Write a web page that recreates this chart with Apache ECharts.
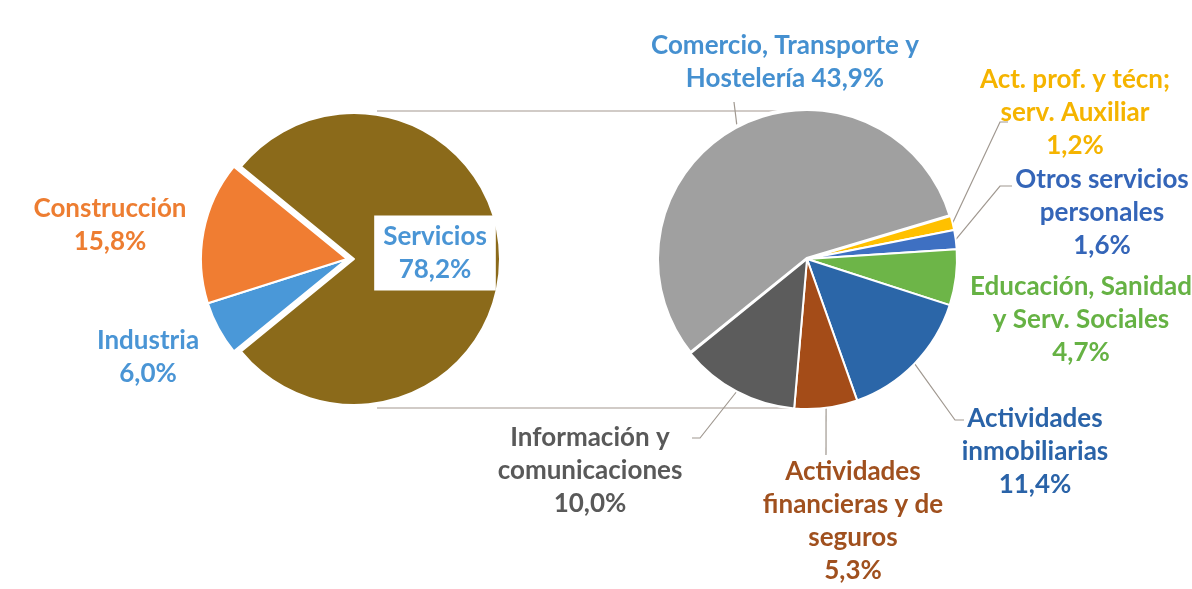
<!DOCTYPE html>
<html>
<head>
<meta charset="utf-8">
<script src="https://cdn.jsdelivr.net/npm/echarts@6/dist/echarts.min.js"></script>
<style>
  html, body { margin: 0; background: #fff; }
  #chart { width: 1192px; height: 589px; }
</style>
</head>
<body>
<div id="chart"></div>
<script>
// datos
const sectorNames = ['Servicios', 'Industria', 'Construcción'];
const sectorValues = [78.2, 6.0, 15.8];
const sectorColors = ['#8B6A1A', '#4A98D8', '#F07D32'];
const sectorLabelColors = ['#4A95D5', '#4A95D5', '#ED7D31'];

const serviceNames = [
  'Comercio, Transporte y\nHostelería',
  'Act. prof. y técn;\nserv. Auxiliar',
  'Otros servicios\npersonales',
  'Educación, Sanidad\ny Serv. Sociales',
  'Actividades\ninmobiliarias',
  'Actividades\nfinancieras y de\nseguros',
  'Información y\ncomunicaciones'
];
const serviceValues = [43.9, 1.2, 1.6, 4.7, 11.4, 5.3, 10.0];
const serviceColors = ['#A0A0A0', '#FFC000', '#3E70C2', '#6DB548', '#2B66A8', '#A44C18', '#5C5C5C'];
const serviceLabelColors = ['#4590D0', '#F5B400', '#3465B8', '#66B244', '#2A63A8', '#A0501E', '#595959'];

// posiciones de las etiquetas
const leftPie = { cx: 347, cy: 259, r: 146, explode: 7 };
const rightPie = { cx: 807, cy: 259, r: 150 };
const leftLabelPos = [[435, 253], [148, 357], [110, 225]];
const rightLabelPos = [[785, 62], [1075, 113], [1102, 213], [1081, 320], [1035, 452], [853, 521], [590, 471]];
const rightLeader = [
  [[734, 102], [734, 102]],
  [[1000, 122], [1008, 122]],
  [[1000, 186], [1012, 186]],
  null,
  [[955, 420], [964, 420]],
  [[826, 455], [826, 455]],
  [[700, 438], [692, 438]]
];

const pct = v => v.toFixed(1).replace('.', ',') + '%';
const font = 'Lato, "Open Sans", sans-serif';
const labelBase = {
  show: true,
  fontFamily: font,
  fontWeight: 'bold',
  fontSize: 26,
  lineHeight: 33,
  align: 'center'
};

const chart = echarts.init(document.getElementById('chart'));

const leftSum = sectorValues.reduce((a, b) => a + b, 0);
const leftStart = sectorValues[0] / leftSum * 180;

const leftLayout = p => ({
  x: leftLabelPos[p.dataIndex][0],
  y: leftLabelPos[p.dataIndex][1],
  align: 'center',
  verticalAlign: 'middle'
});

// la porción de Servicios va separada: una serie la dibuja y la otra deja el hueco
const leftSeries = (onlyServicios, dx) => ({
  type: 'pie',
  z: 2,
  center: [leftPie.cx + dx, leftPie.cy],
  radius: [0, leftPie.r],
  startAngle: leftStart,
  avoidLabelOverlap: false,
  emphasis: { disabled: true },
  labelLine: { show: false },
  label: labelBase,
  data: sectorNames.map((n, i) => {
    const visible = onlyServicios ? i === 0 : i !== 0;
    return {
      name: n,
      value: sectorValues[i],
      itemStyle: visible
        ? { color: sectorColors[i], borderColor: '#fff', borderWidth: 2 }
        : { color: 'rgba(0,0,0,0)', borderWidth: 0 },
      label: Object.assign(
        { show: visible, color: sectorLabelColors[i], formatter: p => p.name + '\n' + pct(p.value) },
        i === 0 ? { backgroundColor: '#fff', padding: [6, 9, 3, 9] } : {}
      )
    };
  }),
  labelLayout: leftLayout
});

chart.setOption({
  backgroundColor: '#fff',
  animation: false,
  graphic: [
    {
      type: 'line', z: 0,
      shape: { x1: leftPie.cx + 30, y1: 111, x2: rightPie.cx, y2: 111 },
      style: { stroke: '#C2BAB5', lineWidth: 1.4 }
    },
    {
      type: 'line', z: 0,
      shape: { x1: leftPie.cx + 30, y1: 408, x2: rightPie.cx, y2: 408 },
      style: { stroke: '#C2BAB5', lineWidth: 1.4 }
    }
  ],
  series: [
    leftSeries(false, 0),
    leftSeries(true, leftPie.explode),
    {
      type: 'pie',
      z: 2,
      center: [rightPie.cx, rightPie.cy],
      radius: [0, rightPie.r],
      startAngle: 219,
      avoidLabelOverlap: false,
      itemStyle: { borderColor: '#fff', borderWidth: 2 },
      emphasis: { disabled: true },
      labelLine: { show: true, lineStyle: { color: '#A09890', width: 1.2 } },
      label: labelBase,
      data: serviceNames.map((n, i) => ({
        name: n,
        value: serviceValues[i],
        itemStyle: i === 0 ? { color: serviceColors[i], borderWidth: 4 } : { color: serviceColors[i] },
        labelLine: { show: rightLeader[i] !== null },
        label: {
          color: serviceLabelColors[i],
          formatter: p => p.name + (p.dataIndex === 0 ? ' ' : '\n') + pct(p.value)
        }
      })),
      labelLayout: p => {
        const i = p.dataIndex;
        const out = {
          x: rightLabelPos[i][0],
          y: rightLabelPos[i][1],
          align: 'center',
          verticalAlign: 'middle'
        };
        if (rightLeader[i] && p.labelLinePoints) {
          out.labelLinePoints = [p.labelLinePoints[0], rightLeader[i][0], rightLeader[i][1]];
        }
        return out;
      }
    }
  ]
});
</script>
</body>
</html>
